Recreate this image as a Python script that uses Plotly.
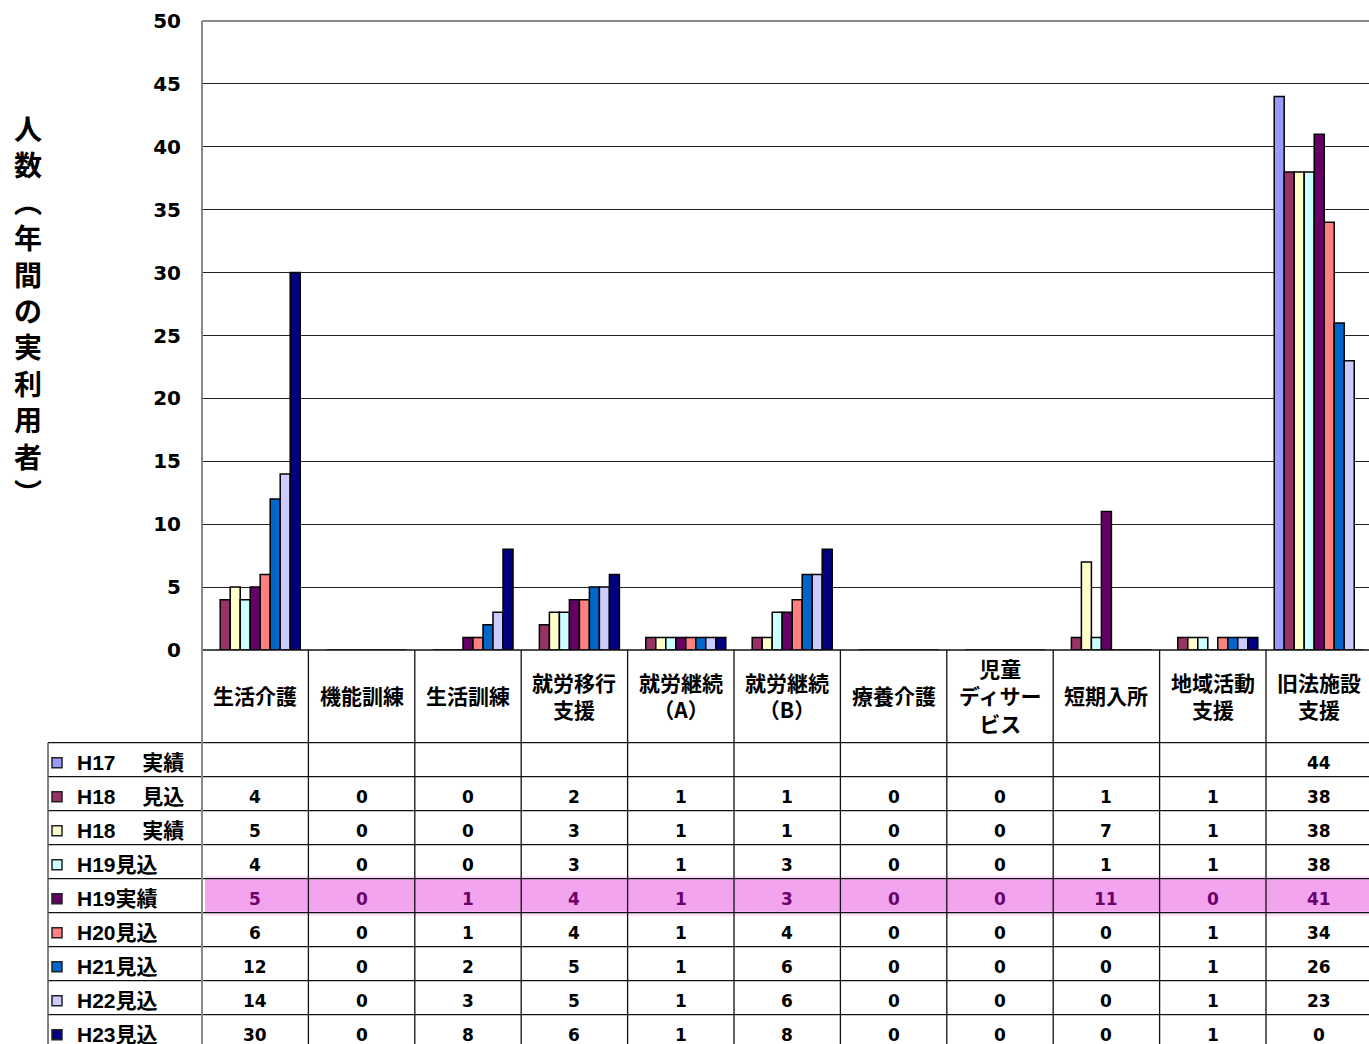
import plotly.graph_objects as go

# ---- data -------------------------------------------------------------
categories = ["生活介護", "機能訓練", "生活訓練", "就労移行\n支援", "就労継続\n（A）",
              "就労継続\n（B）", "療養介護", "児童\nディサー\nビス", "短期入所",
              "地域活動\n支援", "旧法施設\n支援"]

series_names = ["H17　実績", "H18　見込", "H18　実績", "H19見込", "H19実績",
                "H20見込", "H21見込", "H22見込", "H23見込"]

h17_actual = [None, None, None, None, None, None, None, None, None, None, 44]
h18_plan = [4, 0, 0, 2, 1, 1, 0, 0, 1, 1, 38]
h18_actual = [5, 0, 0, 3, 1, 1, 0, 0, 7, 1, 38]
h19_plan = [4, 0, 0, 3, 1, 3, 0, 0, 1, 1, 38]
h19_actual = [5, 0, 1, 4, 1, 3, 0, 0, 11, 0, 41]
h20_plan = [6, 0, 1, 4, 1, 4, 0, 0, 0, 1, 34]
h21_plan = [12, 0, 2, 5, 1, 6, 0, 0, 0, 1, 26]
h22_plan = [14, 0, 3, 5, 1, 6, 0, 0, 0, 1, 23]
h23_plan = [30, 0, 8, 6, 1, 8, 0, 0, 0, 1, 0]

series_values = [h17_actual, h18_plan, h18_actual, h19_plan, h19_actual,
                 h20_plan, h21_plan, h22_plan, h23_plan]

y_ticks = [0, 5, 10, 15, 20, 25, 30, 35, 40, 45, 50]
y_title = "人数︵年間の実利用者︶"
highlight_series = "H19実績"

# ---- styling ------------------------------------------------------------
colors = ["#9999FF", "#993366", "#FFFFCC", "#CCFFFF", "#660066",
          "#FF8080", "#0066CC", "#CCCCFF", "#000080"]

W, H = 1369, 1044
PL, PT, PB = 202, 21, 650          # plot area edges in pixels
COLW = 106.4                        # width of one category column
HEADER_BOTTOM = 742.7
ROW_H = 34.0
LEGEND_LEFT = 48

x_span = (W - PL) / COLW
x_range = [-0.5, -0.5 + x_span]


def px(xp):
    return (xp - PL) / (W - PL)


def py(yp):
    return (PB - yp) / (PB - PT)


def col_left(i):
    return PL + i * COLW


fig = go.Figure()
for name, vals, col in zip(series_names, series_values, colors):
    fig.add_trace(go.Bar(
        x=list(range(len(categories))), y=vals, name=name,
        marker=dict(color=col, line=dict(color="#000000", width=1.5)),
        hoverinfo="x+y+name",
    ))

shapes = []
annotations = []

# highlighted row band
hi = series_names.index(highlight_series)
band_top = HEADER_BOTTOM + hi * ROW_H
shapes.append(dict(type="rect", xref="paper", yref="paper",
                   x0=px(205), x1=px(W + 5), y0=py(band_top - 3), y1=py(band_top + ROW_H + 3),
                   fillcolor="rgba(240,150,240,0.30)", line=dict(width=0), layer="above"))
shapes.append(dict(type="rect", xref="paper", yref="paper",
                   x0=px(205), x1=px(W + 5), y0=py(band_top + 0.5), y1=py(band_top + ROW_H - 1),
                   fillcolor="#F3A4EF", line=dict(width=0), layer="above"))

line_col = "#111111"
# baseline of the plot
shapes.append(dict(type="line", xref="paper", yref="paper", x0=0, x1=1.01,
                   y0=py(PB), y1=py(PB), line=dict(color=line_col, width=1.3), layer="above"))
# table horizontal lines
n_rows = len(series_names)
for r in range(n_rows + 1):
    yy = HEADER_BOTTOM + r * ROW_H
    shapes.append(dict(type="line", xref="paper", yref="paper", x0=px(LEGEND_LEFT), x1=1.01,
                       y0=py(yy), y1=py(yy), line=dict(color=line_col, width=1.3), layer="above"))
# table vertical lines
for i in range(1, len(categories) + 1):
    xx = col_left(i)
    shapes.append(dict(type="line", xref="paper", yref="paper", x0=px(xx), x1=px(xx),
                       y0=py(PB), y1=py(H + 5), line=dict(color=line_col, width=1.3), layer="above"))
shapes.append(dict(type="line", xref="paper", yref="paper", x0=px(LEGEND_LEFT), x1=px(LEGEND_LEFT),
                   y0=py(HEADER_BOTTOM), y1=py(H + 5), line=dict(color="#555555", width=1.5), layer="above"))
# value axis line and top border
shapes.append(dict(type="line", xref="paper", yref="paper", x0=0, x1=0,
                   y0=1, y1=py(H + 5), line=dict(color="#888888", width=2), layer="above"))
shapes.append(dict(type="line", xref="paper", yref="paper", x0=0, x1=1.01,
                   y0=1, y1=1, line=dict(color="#888888", width=2), layer="above"))

# category headers
for i, cat in enumerate(categories):
    annotations.append(dict(
        xref="paper", yref="paper", x=px(col_left(i) + COLW / 2), y=py((PB + HEADER_BOTTOM) / 2 - 1),
        text="<b>" + cat.replace("\n", "<br>") + "</b>", showarrow=False,
        xanchor="center", yanchor="middle", align="center",
        font=dict(family="Noto Sans CJK JP", size=21, color="#000000")))

# table rows: legend key, series name, values
for r, (name, vals, col) in enumerate(zip(series_names, series_values, colors)):
    yc = HEADER_BOTTOM + r * ROW_H + ROW_H / 2 + 3
    shapes.append(dict(type="rect", xref="paper", yref="paper",
                       x0=px(52), x1=px(62), y0=py(yc - 5), y1=py(yc + 5),
                       fillcolor=col, line=dict(color="#222222", width=1.5), layer="above"))
    label = name.replace("　", " 　")
    annotations.append(dict(
        xref="paper", yref="paper", x=px(75), y=py(yc), text="<b>" + label + "</b>",
        showarrow=False, xanchor="left", yanchor="middle",
        font=dict(family="Liberation Sans, Noto Sans CJK JP", size=21, color="#000000")))
    txt_col = "#6B006B" if name == highlight_series else "#000000"
    for i, v in enumerate(vals):
        if v is None:
            continue
        annotations.append(dict(
            xref="paper", yref="paper", x=px(col_left(i) + COLW / 2), y=py(yc),
            text="<b>%d</b>" % v, showarrow=False, xanchor="center", yanchor="middle",
            font=dict(family="DejaVu Sans", size=17, color=txt_col)))

# vertical axis title
annotations.append(dict(
    xref="paper", yref="paper", x=px(28), y=py(310),
    text="<b>" + "<br>".join(list(y_title)) + "</b>", showarrow=False,
    xanchor="center", yanchor="middle", align="center",
    font=dict(family="Noto Sans CJK JP", size=28, color="#000000")))

fig.update_layout(
    width=W, height=H,
    margin=dict(l=PL, r=0, t=PT, b=H - PB, pad=0),
    paper_bgcolor="#FFFFFF", plot_bgcolor="#FFFFFF",
    barmode="group", bargap=0.154, bargroupgap=0,
    showlegend=False,
    shapes=shapes, annotations=annotations,
    xaxis=dict(range=x_range, showticklabels=False, showgrid=False, zeroline=False,
               ticks="", showline=False, fixedrange=True),
    yaxis=dict(range=[0, 50], tickvals=y_ticks, showgrid=True, gridcolor="#222222",
               gridwidth=1.2, zeroline=False, showline=False, ticks="",
               ticklabelstandoff=20,
               tickfont=dict(family="DejaVu Sans", size=20, color="#000000", weight="bold"),
               fixedrange=True),
)

fig.write_html("out.html")
